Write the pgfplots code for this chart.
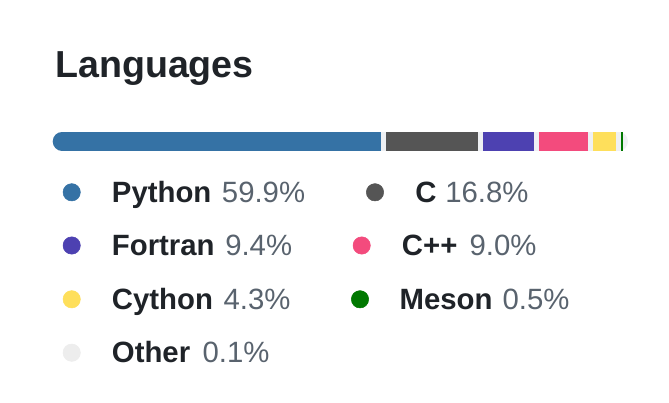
\documentclass[border=0pt]{standalone}
\usepackage{pgfplots}
\pgfplotsset{compat=1.18}
\usepackage{fontspec}
\setmainfont{Liberation Sans}
\definecolor{fg}{HTML}{1F2328}
\definecolor{muted}{HTML}{59636E}
\definecolor{track}{HTML}{EEF0F3}
\definecolor{cPython}{HTML}{3572A5}
\definecolor{cC}{HTML}{555555}
\definecolor{cFortran}{HTML}{4D41B1}
\definecolor{cCpp}{HTML}{F34B7D}
\definecolor{cCython}{HTML}{FEDF5B}
\definecolor{cMeson}{HTML}{007800}
\definecolor{cOther}{HTML}{EDEDED}
\tikzset{
  segbar/.style={line width=14.0pt, line cap=butt},
  ldot/.style={only marks, mark=*, mark size=6.5pt},
  lname/.style={anchor=base west, inner sep=0pt, text=fg, font=\fontsize{22}{26}\selectfont\bfseries},
  lpct/.style={anchor=base west, inner sep=0pt, text=muted, font=\fontsize{22}{26}\selectfont},
}
\begin{document}
\begin{tikzpicture}
\begin{axis}[
  scale only axis, width=501.75pt, height=302.25pt,
  xmin=0, xmax=669, ymin=0, ymax=403, y dir=reverse,
  hide axis, clip=false,
  every axis plot/.append style={mark=none},
]
\fill[white] (axis cs:0,0) rectangle (axis cs:669,403);
% title
\node[anchor=base west, inner sep=0pt, text=fg, font=\fontsize{28.2}{33}\selectfont\bfseries] at (axis cs:55,77.5) {Languages};
% bar: track and segments (Python 59.9, C 16.8, Fortran 9.4, C++ 9.0, Cython 4.3, Meson 0.5, Other 0.1)
\addplot[track, segbar, line cap=round] coordinates {(62.05,141.3) (618.65,141.3)};
\addplot[cPython, segbar, line cap=round] coordinates {(62.05,141.3) (80,141.3)};
\addplot[cPython, segbar] coordinates {(62.05,141.3) (380.7,141.3)};
\addplot[cC, segbar] coordinates {(386,141.3) (477.7,141.3)};
\addplot[cFortran, segbar] coordinates {(483,141.3) (534,141.3)};
\addplot[cCpp, segbar] coordinates {(539,141.3) (587.7,141.3)};
\addplot[cCython, segbar] coordinates {(593,141.3) (615.7,141.3)};
\addplot[cMeson, segbar] coordinates {(620.7,141.3) (623.3,141.3)};
% legend dots
\addplot[ldot, cPython] coordinates {(71.7,192.3)};
\addplot[ldot, cC] coordinates {(375,192.3)};
\addplot[ldot, cFortran] coordinates {(71.7,245.5)};
\addplot[ldot, cCpp] coordinates {(361.7,245.5)};
\addplot[ldot, cCython] coordinates {(71.7,299.3)};
\addplot[ldot, cMeson] coordinates {(360,299.3)};
\addplot[ldot, cOther] coordinates {(71.7,352.7)};
% legend text
\node[lname] at (axis cs:111.7,202.7) {Python};
\node[lpct]  at (axis cs:221.7,202.7) {59.9\%};
\node[lname] at (axis cs:415,202.7) {C};
\node[lpct]  at (axis cs:445,202.7) {16.8\%};
\node[lname] at (axis cs:111.7,255.5) {Fortran};
\node[lpct]  at (axis cs:225,255.5) {9.4\%};
\node[lname] at (axis cs:401.7,255.5) {C++};
\node[lpct]  at (axis cs:469.3,255.5) {9.0\%};
\node[lname] at (axis cs:111.7,309.3) {Cython};
\node[lpct]  at (axis cs:223.3,309.3) {4.3\%};
\node[lname] at (axis cs:399.3,309.3) {Meson};
\node[lpct]  at (axis cs:502.3,309.3) {0.5\%};
\node[lname] at (axis cs:111.7,362.7) {Other};
\node[lpct]  at (axis cs:202.3,362.7) {0.1\%};
\end{axis}
\end{tikzpicture}
\end{document}
